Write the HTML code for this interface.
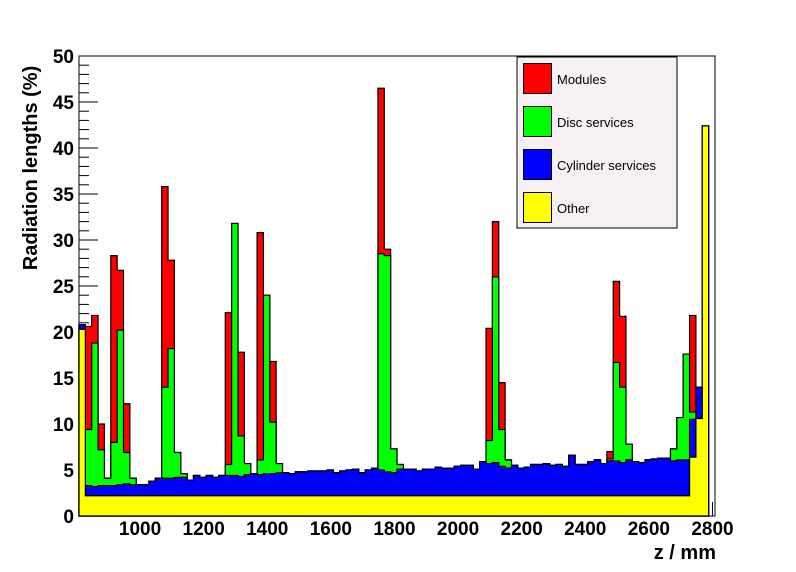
<!DOCTYPE html>
<html><head><meta charset="utf-8"><style>
body{margin:0;background:#fff;}
svg{display:block;font-family:"Liberation Sans",Arial,sans-serif;}
</style></head><body>
<svg id="chart" width="796" height="572" viewBox="0 0 796 572" xmlns="http://www.w3.org/2000/svg">
<rect x="0" y="0" width="796" height="572" fill="#fff"/>
<g id="ticks"></g>
<g id="bars"></g>
<rect x="79" y="56" width="636" height="460" fill="none" stroke="#000" stroke-width="1"/>
<g id="labels" font-weight="bold" font-size="19"></g>
<text x="37" y="168" transform="rotate(-90 37 168)" text-anchor="middle" font-size="20" font-weight="bold">Radiation lengths (%)</text>
<text x="716" y="559" text-anchor="end" font-size="20" font-weight="bold">z / mm</text>
<g>
<rect x="517" y="57" width="160" height="171" fill="#f4f0f4" stroke="#000" stroke-width="1"/>
<rect x="523.5" y="63.5" width="28" height="30" fill="#ff0000" stroke="#000"/>
<text x="557" y="84" font-size="13">Modules</text>
<rect x="523.5" y="106.5" width="28" height="30" fill="#00ff00" stroke="#000"/>
<text x="557" y="127" font-size="13">Disc services</text>
<rect x="523.5" y="149.5" width="28" height="30" fill="#0000ff" stroke="#000"/>
<text x="557" y="170" font-size="13">Cylinder services</text>
<rect x="523.5" y="192.5" width="28" height="30" fill="#ffff00" stroke="#000"/>
<text x="557" y="213" font-size="13">Other</text>
</g>
</svg>
<script>
const binStart = 808;
const binWidth = 20;
const other = [20.3,2.2,2.2,2.2,2.2,2.2,2.2,2.2,2.2,2.2,2.2,2.2,2.2,2.2,2.2,2.2,2.2,2.2,2.2,2.2,2.2,2.2,2.2,2.2,2.2,2.2,2.2,2.2,2.2,2.2,2.2,2.2,2.2,2.2,2.2,2.2,2.2,2.2,2.2,2.2,2.2,2.2,2.2,2.2,2.2,2.2,2.2,2.2,2.2,2.2,2.2,2.2,2.2,2.2,2.2,2.2,2.2,2.2,2.2,2.2,2.2,2.2,2.2,2.2,2.2,2.2,2.2,2.2,2.2,2.2,2.2,2.2,2.2,2.2,2.2,2.2,2.2,2.2,2.2,2.2,2.2,2.2,2.2,2.2,2.2,2.2,2.2,2.2,2.2,2.2,2.2,2.2,2.2,2.2,2.2,2.2,6.4,10.6,42.4];
const cylinder = [0.5,1.1,1.0,1.1,1.1,1.1,1.2,1.3,1.2,1.2,1.2,1.6,1.9,1.9,1.9,2.0,2.0,1.7,2.2,2.0,2.2,2.0,2.2,2.2,2.2,2.1,2.3,2.4,2.3,2.4,2.4,2.5,2.5,2.4,2.6,2.6,2.7,2.7,2.7,2.8,2.5,2.7,2.8,2.9,2.5,2.8,3.0,2.8,2.6,2.5,2.9,2.9,2.9,2.7,2.9,2.9,3.1,3.0,3.0,3.2,3.3,3.3,2.9,3.7,3.5,3.6,3.2,3.0,3.3,3.0,3.1,3.4,3.4,3.5,3.3,3.4,3.2,4.4,3.4,3.4,3.7,3.9,3.5,3.8,3.8,3.6,3.9,3.7,3.6,3.9,4.0,4.1,4.1,3.8,3.9,3.9,4.1,3.4,0];
const disc = [0,6.1,15.6,3.9,0.8,4.7,16.8,3.4,0.7,0,0,0,0,9.9,14.1,2.7,0.4,0,0,0,0,0,0,1.2,27.4,4.4,1.2,0,1.6,19.4,5.6,1.0,0,0,0,0,0,0,0,0,0,0,0,0,0,0,0,23.5,23.5,2.6,0.5,0,0,0,0,0,0,0,0,0,0,0,0,0,2.5,20.2,4.0,0.9,0,0,0,0,0,0,0,0,0,0,0,0,0,0,0,0.2,10.7,8.2,1.7,0,0,0,0,0,0,1.3,4.6,11.5,0.8,0,0];
const modules = [0,11.2,3.0,2.8,0,20.3,6.5,5.3,0,0,0,0,0,21.8,9.6,0,0,0,0,0,0,0,0,16.5,0,9.1,0,0,24.7,0,6.6,0,0,0,0,0,0,0,0,0,0,0,0,0,0,0,0,18.0,0.7,0,0,0,0,0,0,0,0,0,0,0,0,0,0,0,12.2,6.0,5.1,0,0,0,0,0,0,0,0,0,0,0,0,0,0,0,0,0.8,8.8,7.7,0,0,0,0,0,0,0,0,0,0,10.5,0,0];
const xTicks = [1000,1200,1400,1600,1800,2000,2200,2400,2600,2800];
const yTicks = [0,5,10,15,20,25,30,35,40,45,50];

const X0 = 79, PXMM = 0.318, Y0 = 516, PXV = 9.2;
function xs(z){ return X0 + (z - binStart) * PXMM; }
function ys(v){ return Y0 - v * PXV; }
const NS = "http://www.w3.org/2000/svg";
const bars = document.getElementById('bars');

function cumulative(layers){
  return other.map((_, i) => layers.reduce((s, a) => s + a[i], 0));
}
function stepPath(vals){
  let d = 'M' + xs(binStart) + ',' + ys(0);
  vals.forEach((v, i) => {
    const xa = xs(binStart + i * binWidth), xb = xs(binStart + (i + 1) * binWidth);
    d += ' L' + xa + ',' + ys(v) + ' L' + xb + ',' + ys(v);
  });
  d += ' L' + xs(binStart + vals.length * binWidth) + ',' + ys(0) + ' Z';
  return d;
}
const stackDefs = [
  ['modules', [other, cylinder, disc, modules], '#ff0000'],
  ['disc-services', [other, cylinder, disc], '#00ff00'],
  ['cylinder-services', [other, cylinder], '#0000ff'],
  ['other', [other], '#ffff00']
];
stackDefs.forEach(([name, layers, col]) => {
  const p = document.createElementNS(NS, 'path');
  p.setAttribute('d', stepPath(cumulative(layers)));
  p.setAttribute('fill', col);
  p.setAttribute('stroke', '#000');
  p.setAttribute('stroke-width', '1.2');
  
  
  bars.appendChild(p);
});

const ticks = document.getElementById('ticks');
const labels = document.getElementById('labels');
for (let v = 0; v <= 50; v++) {
  const major = v % 5 === 0;
  const l = document.createElementNS(NS, 'line');
  l.setAttribute('x1', X0); l.setAttribute('x2', X0 + (major ? 19 : 10));
  l.setAttribute('y1', ys(v)); l.setAttribute('y2', ys(v));
  l.setAttribute('stroke', '#000');
  
  
  ticks.appendChild(l);
}
yTicks.forEach(v => {
  const t = document.createElementNS(NS, 'text');
  t.setAttribute('x', 74); t.setAttribute('y', ys(v) + 7);
  t.setAttribute('text-anchor', 'end');
  t.textContent = v;
  
  
  labels.appendChild(t);
});
xTicks.forEach(z => {
  const l = document.createElementNS(NS, 'line');
  l.setAttribute('x1', xs(z)); l.setAttribute('x2', xs(z));
  l.setAttribute('y1', Y0); l.setAttribute('y2', Y0 - 14);
  l.setAttribute('stroke', '#000');
  
  
  ticks.appendChild(l);
  const t = document.createElementNS(NS, 'text');
  t.setAttribute('x', xs(z)); t.setAttribute('y', 535);
  t.setAttribute('text-anchor', 'middle');
  t.textContent = z;
  
  
  labels.appendChild(t);
});
</script>
</body></html>
